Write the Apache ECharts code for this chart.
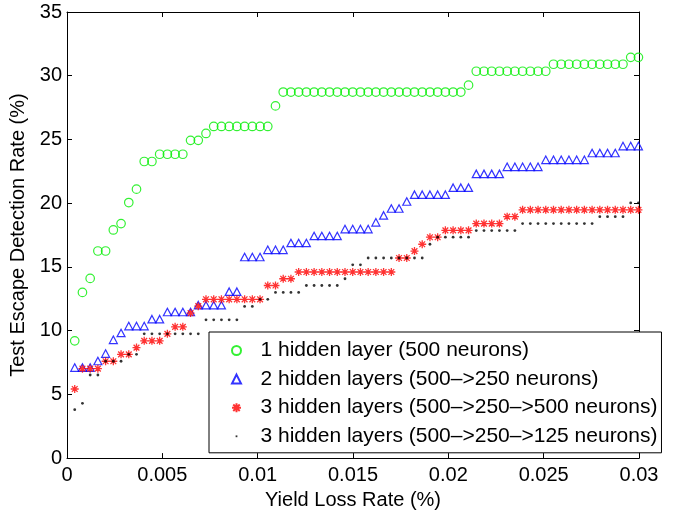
<!DOCTYPE html>
<html>
<head>
<meta charset="utf-8">
<script src="https://cdn.jsdelivr.net/npm/echarts@6/dist/echarts.min.js"></script>
<style>html,body{margin:0;padding:0;background:#fff}#c{width:675px;height:515px}</style>
</head>
<body>
<div id="c"></div>
<script>
var xRate = [0.000405,0.00081,0.001215,0.00162,0.002025,0.00243,0.002835,0.00324,0.003645,0.00405,
0.004455,0.00486,0.005265,0.00567,0.006075,0.00648,0.006885,0.00729,0.007695,0.0081,
0.008505,0.00891,0.009315,0.00972,0.010125,0.01053,0.010935,0.01134,0.011745,0.01215,
0.012555,0.01296,0.013365,0.01377,0.014175,0.01458,0.014985,0.01539,0.015795,0.0162,
0.016605,0.01701,0.017415,0.01782,0.018225,0.01863,0.019035,0.01944,0.019845,0.02025,
0.020655,0.02106,0.021465,0.02187,0.022275,0.02268,0.023085,0.02349,0.023895,0.0243,
0.024705,0.02511,0.025515,0.02592,0.026325,0.02673,0.027135,0.02754,0.027945,0.02835,
0.028755,0.02916,0.029565,0.02997];

var oneLayer = [9.2,13.0,14.1,16.25,16.25,17.9,18.4,20.05,21.1,23.27,
23.27,23.84,23.84,23.84,23.84,24.93,24.93,25.47,26.02,26.02,
26.02,26.02,26.02,26.02,26.02,26.02,27.63,28.72,28.72,28.72,
28.72,28.72,28.72,28.72,28.72,28.72,28.72,28.72,28.72,28.72,
28.72,28.72,28.72,28.72,28.72,28.72,28.72,28.72,28.72,28.72,
28.72,29.26,30.35,30.35,30.35,30.35,30.35,30.35,30.35,30.35,
30.35,30.35,30.9,30.9,30.9,30.9,30.9,30.9,30.9,30.9,
30.9,30.9,31.44,31.44];

var twoLayers = [7.1,7.1,7.1,7.62,8.2,9.28,9.82,10.36,10.36,10.36,
10.9,10.9,11.46,11.46,11.46,11.46,12.0,12.0,12.0,12.0,
13.06,13.06,15.78,15.78,15.78,16.34,16.34,16.34,16.88,16.88,
16.88,17.43,17.43,17.43,17.43,17.97,17.97,17.97,17.97,18.5,
19.04,19.58,19.58,20.13,20.67,20.67,20.67,20.67,20.67,21.22,
21.22,21.22,22.3,22.3,22.3,22.3,22.85,22.85,22.85,22.85,
22.85,23.4,23.4,23.4,23.4,23.4,23.4,23.94,23.94,23.94,
23.94,24.48,24.48,24.48];

var threeLayers500 = [5.42,7.02,7.02,7.02,7.6,7.6,8.14,8.14,8.67,9.2,
9.2,9.2,9.75,10.3,10.3,11.38,11.92,12.46,12.46,12.46,
12.46,12.46,12.46,12.46,12.46,13.54,13.54,14.07,14.07,14.6,
14.6,14.6,14.6,14.6,14.6,14.6,14.6,14.6,14.6,14.6,
14.6,14.6,15.7,15.7,16.24,16.78,17.33,17.33,17.87,17.87,
17.87,17.87,18.4,18.4,18.4,18.4,18.94,18.94,19.48,19.48,
19.48,19.48,19.48,19.48,19.48,19.48,19.48,19.48,19.48,19.48,
19.48,19.48,19.48,19.48];

var threeLayers125 = [3.8,4.3,6.52,6.52,7.6,7.6,7.6,8.14,8.14,9.75,
9.75,9.75,9.75,9.75,9.75,9.75,9.75,10.85,10.85,10.85,
10.85,10.85,11.9,11.9,12.46,12.46,13.0,13.0,13.0,13.0,
13.54,13.54,13.54,13.54,13.54,14.07,15.16,15.16,15.7,15.7,
15.7,15.7,15.7,15.7,15.7,15.7,16.78,17.33,17.33,17.33,
17.33,17.33,17.85,17.85,17.85,17.85,17.85,17.85,18.4,18.4,
18.4,18.4,18.4,18.4,18.4,18.4,18.4,18.4,18.94,18.94,
18.94,18.94,20.02,20.02];

var seriesNames = ['1 hidden layer (500 neurons)','2 hidden layers (500\u2013>250 neurons)','3 hidden layers (500\u2013>250\u2013>500 neurons)','3 hidden layers (500\u2013>250\u2013>125 neurons)'];
var xTickLabels = ['0','0.005','0.01','0.015','0.02','0.025','0.03'];
var yTickLabels = ['0','5','10','15','20','25','30','35'];

function pairs(ys){ return ys.map(function(y,i){ return [xRate[i], y]; }); }

var FONT = '"Liberation Sans", Arial, Helvetica, sans-serif';
var star = 'path://M0,-1L0,1M-1,0L1,0M-0.72,-0.72L0.72,0.72M-0.72,0.72L0.72,-0.72';
var triIcon = 'path://M0,-1L0.95,0.9L-0.95,0.9Z';
var dotIcon = 'path://M-5,-5M5,5M-1,-1L1,-1L1,1L-1,1Z';

var axisLineStyle = {color:'#000', width:1};
function xAx(pos, showLabel){
  return {type:'value', position:pos, min:0, max:0.03, interval:0.005,
    axisLine:{show:true, onZero:false, lineStyle:axisLineStyle},
    axisTick:{show:true, inside:true, length:5, lineStyle:axisLineStyle},
    splitLine:{show:false},
    axisLabel:{show:showLabel, margin:7, color:'#000', fontSize:20, fontFamily:FONT,
      formatter:function(v,i){ return xTickLabels[Math.round(v/0.005)]; }},
    name: showLabel ? 'Yield Loss Rate (%)' : '', nameLocation:'middle', nameGap:23,
    nameTextStyle:{color:'#000', fontSize:20, fontFamily:FONT}};
}
function yAx(pos, showLabel){
  return {type:'value', position:pos, min:0, max:35, interval:5,
    axisLine:{show:true, onZero:false, lineStyle:axisLineStyle},
    axisTick:{show:true, inside:true, length:5, lineStyle:axisLineStyle},
    splitLine:{show:false},
    axisLabel:{show:showLabel, margin:5, color:'#000', fontSize:20, fontFamily:FONT,
      formatter:function(v){ return yTickLabels[Math.round(v/5)]; }},
    name: showLabel ? 'Test Escape Detection Rate (%)' : '', nameLocation:'middle', nameGap:30, nameRotate:90,
    nameTextStyle:{color:'#000', fontSize:20, fontFamily:FONT}};
}

var chart = echarts.init(document.getElementById('c'), null, {renderer:'canvas'});
chart.setOption({
  animation:false,
  backgroundColor:'#fff',
  grid:{left:67, right:36, top:12, bottom:53, containLabel:false},
  xAxis:[xAx('bottom', true), xAx('top', false)],
  yAxis:[yAx('left', true), yAx('right', false)],
  legend:{
    orient:'vertical', left:209, top:332,
    itemWidth:38, itemHeight:9, itemGap:7.6,
    padding:[8,4,6,22],
    borderColor:'#000', borderWidth:1, backgroundColor:'#fff',
    textStyle:{color:'#000', fontSize:21, fontFamily:FONT},
    data:[
      {name:seriesNames[0], icon:'circle'},
      {name:seriesNames[1], icon:triIcon},
      {name:seriesNames[2], icon:star},
      {name:seriesNames[3], icon:dotIcon, itemStyle:{color:'#000', borderWidth:0}}
    ],
    selectedMode:false, z:10
  },
  series:[
    {name:seriesNames[0], type:'scatter', data:pairs(oneLayer), symbol:'circle', symbolSize:8.5,
     itemStyle:{color:'rgba(0,0,0,0)', borderColor:'#00ee00', borderWidth:1.2}, silent:true},
    {name:seriesNames[1], type:'scatter', data:pairs(twoLayers), symbol:'triangle', symbolSize:[8,7.5],
     itemStyle:{color:'rgba(0,0,0,0)', borderColor:'#0000ff', borderWidth:1.2}, silent:true},
    {name:seriesNames[2], type:'scatter', data:pairs(threeLayers500), symbol:star, symbolSize:8,
     itemStyle:{color:'rgba(0,0,0,0)', borderColor:'#ff0000', borderWidth:1.3}, silent:true},
    {name:seriesNames[3], type:'scatter', data:pairs(threeLayers125), symbol:'circle', symbolSize:2.8,
     itemStyle:{color:'#000'}, silent:true}
  ]
});
</script>
</body>
</html>
